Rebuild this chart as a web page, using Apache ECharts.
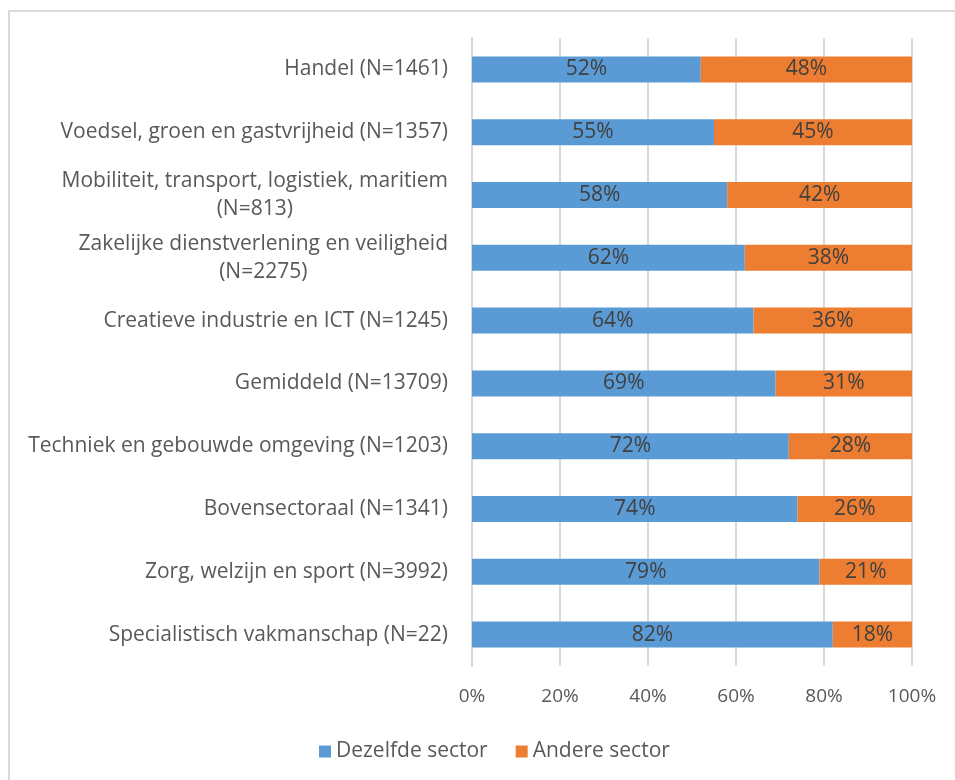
<!DOCTYPE html>
<html>
<head>
<meta charset="utf-8">
<script src="https://cdn.jsdelivr.net/npm/echarts@6/dist/echarts.min.js"></script>
<style>
  html, body { margin: 0; padding: 0; background: #ffffff; }
  .frame {
    position: absolute; left: 8px; top: 10px;
    width: 1000px; height: 800px;
    border: 2px solid #d9d9d9;
  }
  #chart { position: absolute; left: 0; top: 0; width: 955px; height: 780px; }
</style>
</head>
<body>
<div class="frame"></div>
<div id="chart"></div>
<script>
  const categories = [
    'Handel (N=1461)',
    'Voedsel, groen en gastvrijheid (N=1357)',
    'Mobiliteit, transport, logistiek, maritiem\n(N=813)',
    'Zakelijke dienstverlening en veiligheid\n(N=2275)',
    'Creatieve industrie en ICT (N=1245)',
    'Gemiddeld (N=13709)',
    'Techniek en gebouwde omgeving (N=1203)',
    'Bovensectoraal (N=1341)',
    'Zorg, welzijn en sport (N=3992)',
    'Specialistisch vakmanschap (N=22)'
  ];
  const dezelfdeSector = [52, 55, 58, 62, 64, 69, 72, 74, 79, 82];
  const andereSector = [48, 45, 42, 38, 36, 31, 28, 26, 21, 18];
  const xTicks = [0, 20, 40, 60, 80, 100];

  const font = 'Open Sans';
  const textColor = '#595959';

  const chart = echarts.init(document.getElementById('chart'));

  const barLabel = {
    show: true,
    position: 'inside',
    formatter: p => p.value + '%',
    color: '#404040',
    fontFamily: font,
    fontSize: 21
  };

  chart.setOption({
    textStyle: { fontFamily: font },
    animation: false,
    legend: {
      left: 314,
      top: 736,
      itemWidth: 12,
      itemHeight: 12,
      itemGap: 28,
      icon: 'rect',
      textStyle: { color: textColor, fontSize: 21, fontFamily: font }
    },
    grid: { left: 472, right: 43, top: 38, bottom: 114 },
    xAxis: {
      type: 'value',
      min: 0,
      max: 100,
      interval: 20,
      axisLine: { show: false },
      axisTick: { show: false },
      splitLine: { lineStyle: { color: '#d9d9d9', width: 2 } },
      axisLabel: {
        margin: 21,
        color: textColor,
        fontSize: 19,
        fontFamily: font,
        formatter: v => xTicks.includes(v) ? v + '%' : ''
      }
    },
    yAxis: {
      type: 'category',
      inverse: true,
      data: categories,
      axisLine: { show: true, lineStyle: { color: '#d9d9d9', width: 2 } },
      axisTick: { show: false },
      axisLabel: {
        margin: 24,
        align: 'right',
        color: textColor,
        fontSize: 21,
        fontFamily: font,
        lineHeight: 28,
        formatter: v => v.split('\n').map(l => '{a|' + l + '}').join('\n'),
        rich: {
          a: { align: 'center', color: textColor, fontSize: 21, fontFamily: font, lineHeight: 28 }
        }
      }
    },
    series: [
      {
        name: 'Dezelfde sector',
        type: 'bar',
        stack: 'total',
        barWidth: 26,
        data: dezelfdeSector,
        itemStyle: { color: '#5b9bd5' },
        label: barLabel
      },
      {
        name: 'Andere sector',
        type: 'bar',
        stack: 'total',
        barWidth: 26,
        data: andereSector,
        itemStyle: { color: '#ed7d31' },
        label: barLabel
      }
    ]
  });
</script>
</body>
</html>
